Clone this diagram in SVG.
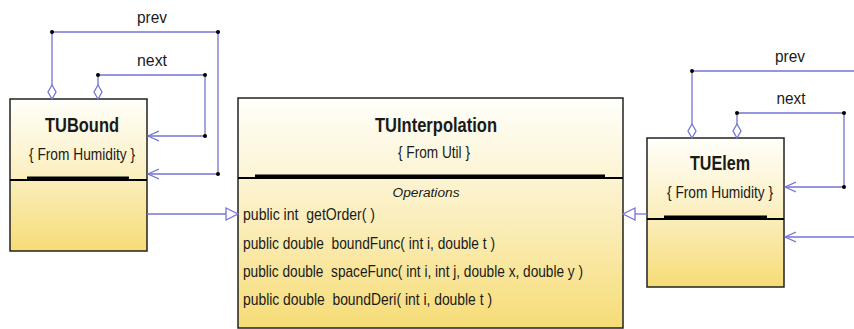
<svg xmlns="http://www.w3.org/2000/svg" width="854" height="329" viewBox="0 0 854 329">
  <style>
    .box { stroke: #222; stroke-width: 1.5; }
    .div { stroke: #000; stroke-width: 2; }
    .bar { fill: #000; }
    text { font-family: "Liberation Sans", Arial, sans-serif; fill: #1a1a1a; }
    .title { font-weight: bold; font-size: 20px; text-anchor: middle; }
    .pkg { font-size: 17px; text-anchor: middle; }
    .ops { font-size: 12px; font-style: italic; text-anchor: middle; }
    .op { font-size: 16px; white-space: pre; }
    .lbl { font-size: 16px; text-anchor: middle; }
    .ln { fill: none; stroke: #7474d4; stroke-width: 1.3; }
    .dia { fill: #fff; stroke: #7474d4; stroke-width: 1.3; }
    .tri { fill: #fff; stroke: #7474d4; stroke-width: 1.3; }
    .dot { fill: #000; }
  </style>
  <defs>
    <linearGradient id="fillY" x1="0" y1="0" x2="0" y2="1">
      <stop offset="0" stop-color="#fffffb"/>
      <stop offset="0.5" stop-color="#fbefc0"/>
      <stop offset="1" stop-color="#f6dc76"/>
    </linearGradient>
    <marker id="open" viewBox="0 0 12 12" refX="11" refY="6" markerWidth="12" markerHeight="12" markerUnits="userSpaceOnUse" orient="auto">
      <path d="M0,1 L11,6 L0,11" fill="none" stroke="#7474d4" stroke-width="1.3"/>
    </marker>
  </defs>

  <!-- TUBound -->
  <g id="TUBound">
    <rect class="box" x="10" y="99" width="137" height="152" fill="url(#fillY)"/>
    <line class="div" x1="10" y1="180" x2="147" y2="180"/>
    <rect class="bar" x="27" y="176.5" width="102" height="3.5"/>
    <text class="title" x="82" y="132" textLength="74" lengthAdjust="spacingAndGlyphs">TUBound</text>
    <text class="pkg" x="82" y="160" textLength="106" lengthAdjust="spacingAndGlyphs">{ From Humidity }</text>
  </g>

  <!-- TUInterpolation -->
  <g id="TUInterpolation">
    <rect class="box" x="238" y="98" width="385" height="230" fill="url(#fillY)"/>
    <line class="div" x1="238" y1="178" x2="623" y2="178"/>
    <rect class="bar" x="255" y="174.5" width="350" height="3.5"/>
    <text class="title" x="436" y="131.5" textLength="122" lengthAdjust="spacingAndGlyphs">TUInterpolation</text>
    <text class="pkg" x="434" y="158" textLength="72" lengthAdjust="spacingAndGlyphs">{ From Util }</text>
    <text class="ops" x="426" y="197" textLength="67" lengthAdjust="spacingAndGlyphs">Operations</text>
    <text class="op" x="243" y="220" textLength="132" lengthAdjust="spacingAndGlyphs">public int  getOrder( )</text>
    <text class="op" x="243" y="249" textLength="252" lengthAdjust="spacingAndGlyphs">public double  boundFunc( int i, double t )</text>
    <text class="op" x="243" y="277" textLength="340" lengthAdjust="spacingAndGlyphs">public double  spaceFunc( int i, int j, double x, double y )</text>
    <text class="op" x="243" y="305" textLength="249" lengthAdjust="spacingAndGlyphs">public double  boundDeri( int i, double t )</text>
  </g>

  <!-- TUElem -->
  <g id="TUElem">
    <rect class="box" x="647" y="138" width="137" height="149" fill="url(#fillY)"/>
    <line class="div" x1="647" y1="219" x2="784" y2="219"/>
    <rect class="bar" x="664" y="215.5" width="103" height="3.5"/>
    <text class="title" x="720" y="170" textLength="60" lengthAdjust="spacingAndGlyphs">TUElem</text>
    <text class="pkg" x="720" y="198" textLength="106" lengthAdjust="spacingAndGlyphs">{ From Humidity }</text>
  </g>

  <!-- connectors -->
  <g id="connectors">
    <!-- TUBound self associations -->
    <path class="ln" d="M52,85 V32 H218 V174 H148" marker-end="url(#open)"/>
    <path class="dia" d="M52,85 L56,92 L52,99 L48,92 Z"/>
    <path class="ln" d="M98,85 V75 H205 V136 H148" marker-end="url(#open)"/>
    <path class="dia" d="M98,85 L102,92 L98,99 L94,92 Z"/>
    <text class="lbl" x="152" y="23" textLength="30" lengthAdjust="spacingAndGlyphs">prev</text>
    <text class="lbl" x="152" y="66" textLength="30" lengthAdjust="spacingAndGlyphs">next</text>
    <circle class="dot" cx="52" cy="32" r="2"/>
    <circle class="dot" cx="218" cy="32" r="2"/>
    <circle class="dot" cx="98" cy="75" r="2"/>
    <circle class="dot" cx="205" cy="75" r="2"/>
    <circle class="dot" cx="205" cy="136" r="2"/>
    <circle class="dot" cx="218" cy="174" r="2"/>

    <!-- generalizations -->
    <path class="ln" d="M147,214 H226"/>
    <path class="tri" d="M226,208 L238,214 L226,220 Z"/>
    <path class="ln" d="M647,214 H635"/>
    <path class="tri" d="M635,208 L623,214 L635,220 Z"/>

    <!-- TUElem self associations -->
    <path class="ln" d="M692,124 V71 H854"/>
    <path class="dia" d="M692,124 L696,131 L692,138 L688,131 Z"/>
    <path class="ln" d="M854,237 H785" marker-end="url(#open)"/>
    <path class="ln" d="M737,124 V113 H844 V187 H785" marker-end="url(#open)"/>
    <path class="dia" d="M737,124 L741,131 L737,138 L733,131 Z"/>
    <text class="lbl" x="790" y="62" textLength="30" lengthAdjust="spacingAndGlyphs">prev</text>
    <text class="lbl" x="791" y="104" textLength="29" lengthAdjust="spacingAndGlyphs">next</text>
    <circle class="dot" cx="692" cy="71" r="2"/>
    <circle class="dot" cx="737" cy="113" r="2"/>
    <circle class="dot" cx="844" cy="113" r="2"/>
    <circle class="dot" cx="844" cy="187" r="2"/>
  </g>
</svg>
